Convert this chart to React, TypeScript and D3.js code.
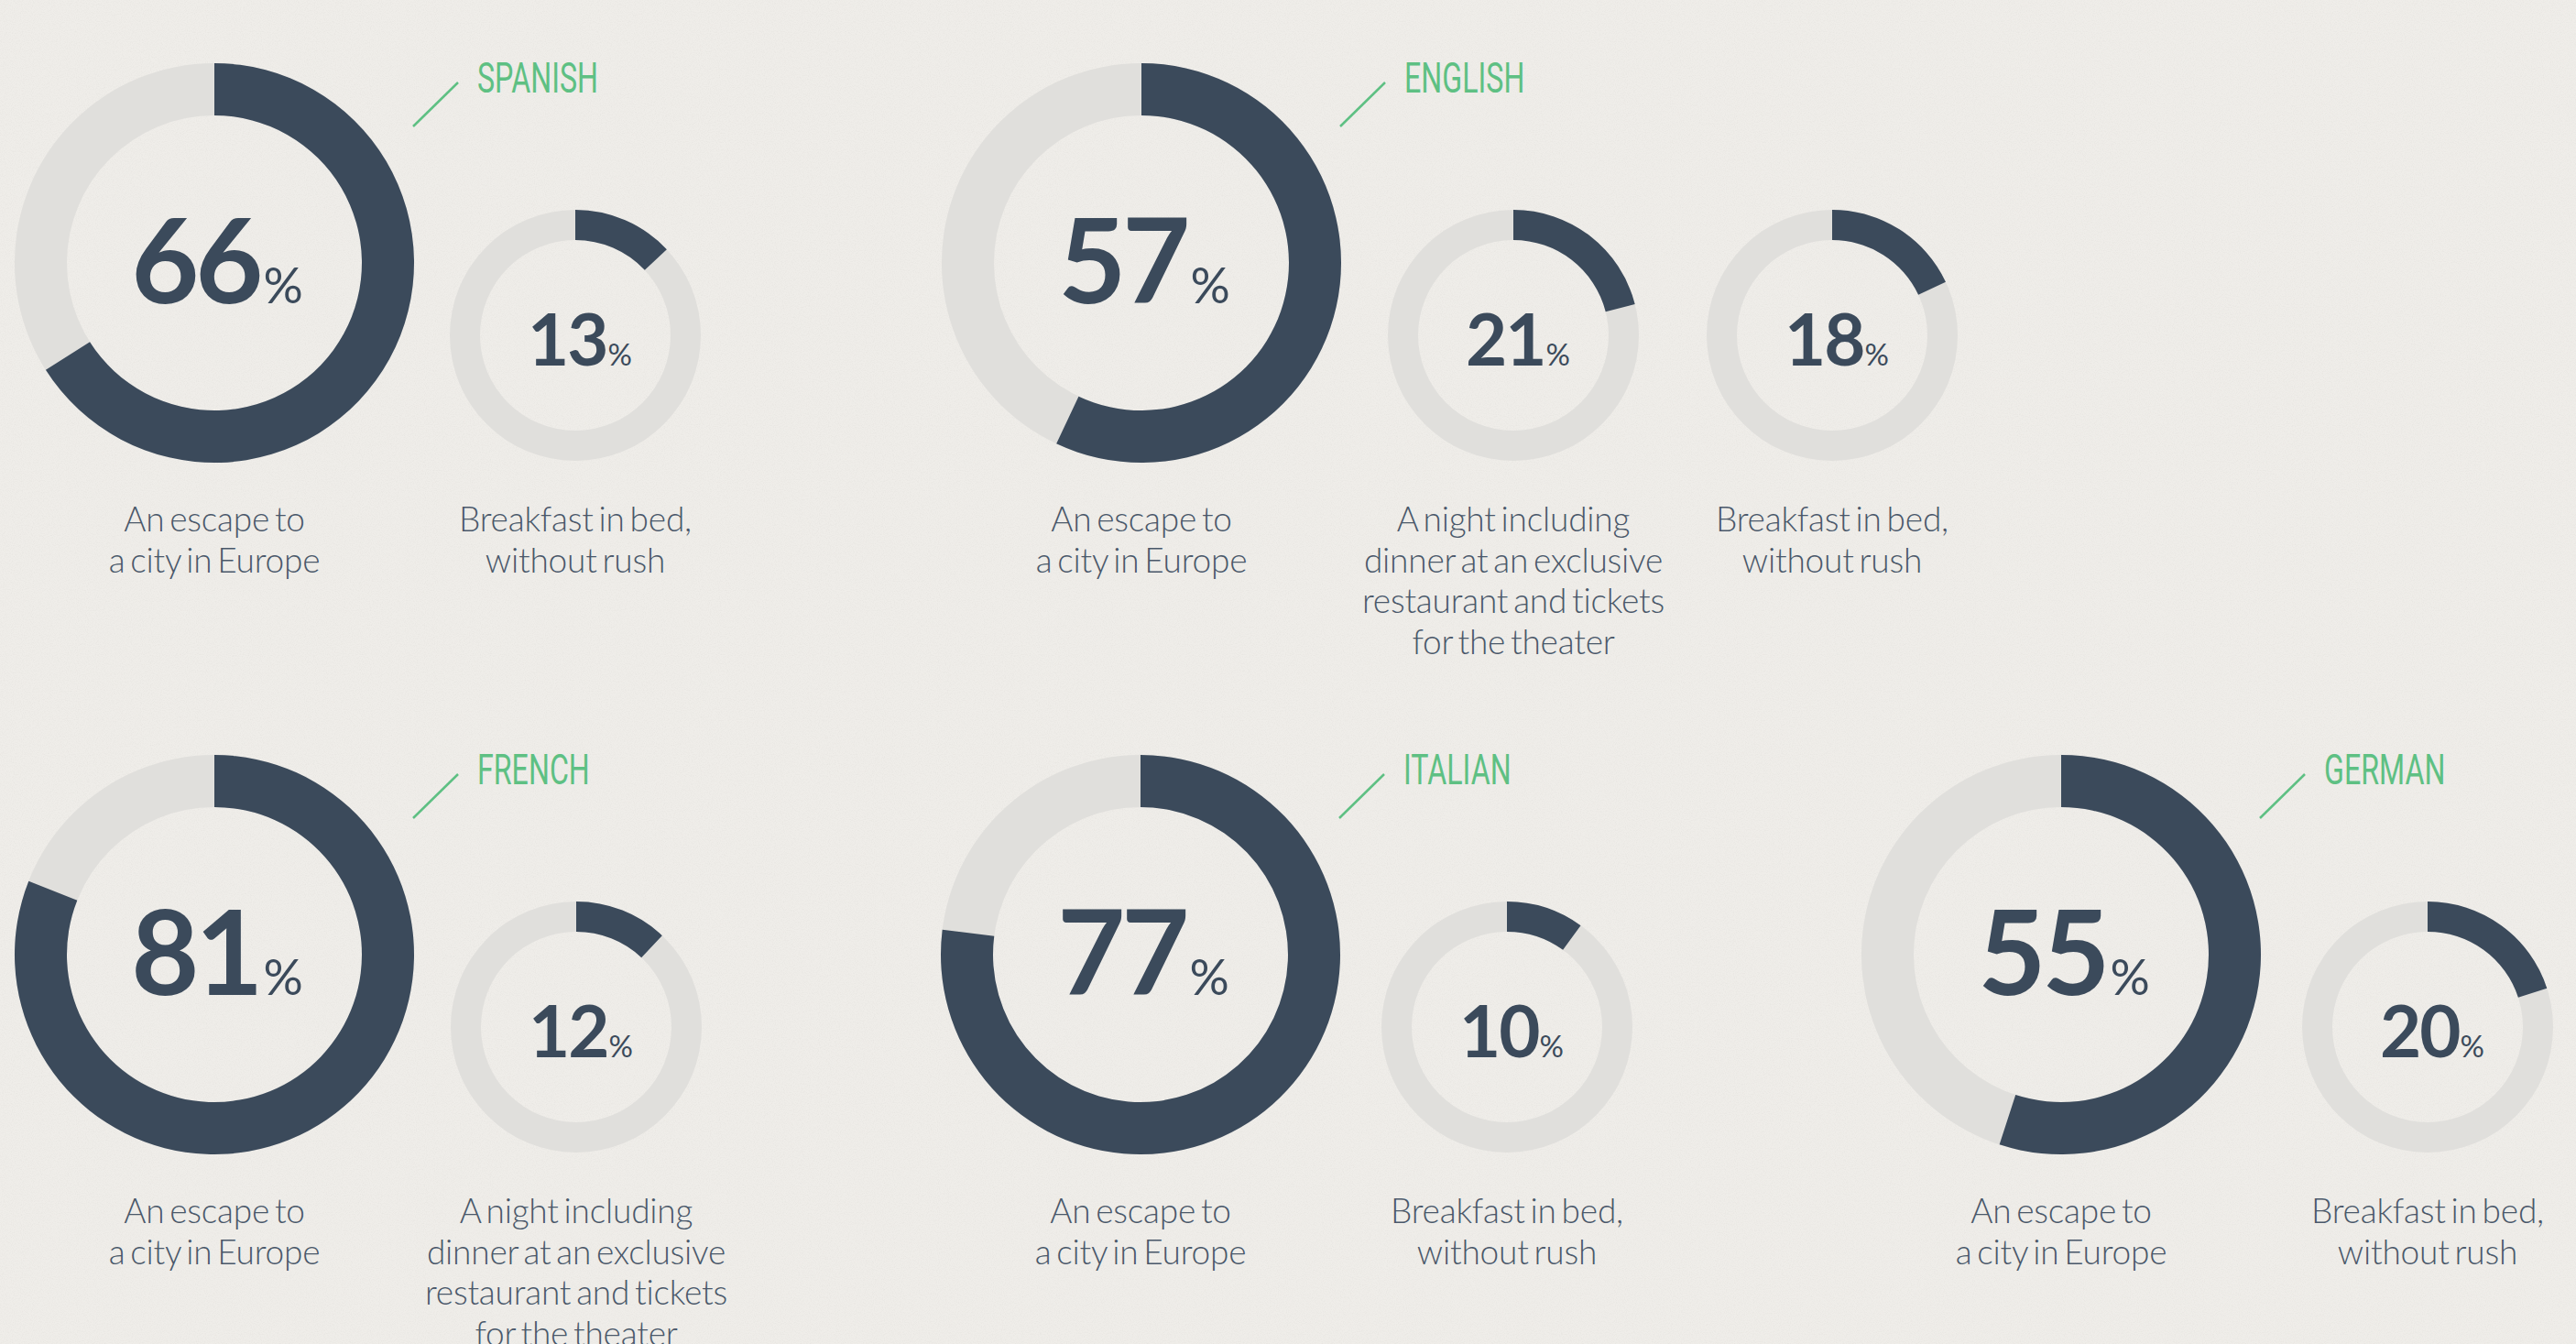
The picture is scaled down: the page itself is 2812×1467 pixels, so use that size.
import React from "react";
import * as d3 from "d3";

// ---- data ----
const languages = ["SPANISH", "ENGLISH", "FRENCH", "ITALIAN", "GERMAN"];
const escapeShare = [66, 57, 81, 77, 55];
const nightShare: (number | null)[] = [null, 21, 12, null, null];
const breakfastShare: (number | null)[] = [13, 18, null, 10, 20];

const escapeLabel = ["An escape to", "a city in Europe"];
const nightLabel = ["A night including", "dinner at an exclusive", "restaurant and tickets", "for the theater"];
const breakfastLabel = ["Breakfast in bed,", "without rush"];

// ---- layout ----
const W = 2812;
const H = 1467;
const groupX = [234, 1246, 234, 1245, 2250];
const groupY = [287, 287, 1042, 1042, 1042];
const smallOffsets = [[394], [406, 754], [395], [400], [400]];

const DARK = "#3b4a5b";
const GREY = "#e0dfdc";
const TEXT = "#4a586a";
const GREEN = "#5ec083";

const bigR = { outer: 218, inner: 161 };
const smallR = { outer: 137, inner: 104 };

const angle = d3.scaleLinear().domain([0, 100]).range([0, 2 * Math.PI]);

function Donut({ x, y, value, big }: { x: number; y: number; value: number; big: boolean }) {
  const r = big ? bigR : smallR;
  const arc = d3.arc<any>().innerRadius(r.inner).outerRadius(r.outer);
  const bg = arc({ startAngle: 0, endAngle: 2 * Math.PI }) as string;
  const fg = arc({ startAngle: 0, endAngle: angle(value) }) as string;
  const numSize = big ? 128 : 78;
  const pctSize = big ? 54 : 33;
  const base = big ? 44 : 33;
  return (
    <g transform={`translate(${x},${y})`}>
      <path d={bg} fill={GREY} />
      <path d={fg} fill={DARK} />
      <text
        x={big ? 3 : 5}
        y={base}
        textAnchor="middle"
        fill={DARK}
        fontFamily="Lato, sans-serif"
      >
        <tspan fontSize={numSize} fontWeight={700} letterSpacing={big ? -4 : -2}>
          {value}
        </tspan>
        <tspan fontSize={pctSize} fontWeight={400} dx={big ? 4 : 1}>
          %
        </tspan>
      </text>
    </g>
  );
}

function Label({ x, y, lines }: { x: number; y: number; lines: string[] }) {
  return (
    <text
      x={x}
      y={y}
      textAnchor="middle"
      fill={TEXT}
      fontFamily="Lato, sans-serif"
      fontWeight={300}
      fontSize={37}
      wordSpacing={-4}
      letterSpacing={-0.2}
    >
      {lines.map((l, i) => (
        <tspan key={i} x={x} dy={i === 0 ? 0 : 44.5}>
          {l}
        </tspan>
      ))}
    </text>
  );
}

export default function App() {
  return (
    <svg
      width={W}
      height={H}
      viewBox={`0 0 ${W} ${H}`}
      style={{ position: "fixed", left: 0, top: 0, display: "block" }}
    >
      <defs>
        <filter id="paper" x="0" y="0" width="100%" height="100%">
          <feTurbulence type="fractalNoise" baseFrequency="0.9" numOctaves="2" seed="3" result="n" />
          <feColorMatrix
            type="matrix"
            values="0 0 0 0 0.55  0 0 0 0 0.53  0 0 0 0 0.5  0 0 0 0.9 -0.38"
          />
        </filter>
      </defs>
      <rect width={W} height={H} fill="#efede9" />
      <rect width={W} height={H} filter="url(#paper)" opacity={0.35} />
      {languages.map((lang, gi) => {
        const gx = groupX[gi];
        const gy = groupY[gi];
        const smalls: { v: number; lines: string[] }[] = [];
        if (nightShare[gi] != null) smalls.push({ v: nightShare[gi] as number, lines: nightLabel });
        if (breakfastShare[gi] != null) smalls.push({ v: breakfastShare[gi] as number, lines: breakfastLabel });
        const labelY = gy + 293;
        return (
          <g key={lang}>
            <line
              x1={gx + 217}
              y1={gy - 149}
              x2={gx + 266}
              y2={gy - 197}
              stroke={GREEN}
              strokeWidth={2.5}
            />
            <g transform={`translate(${gx + 287},${gy - 186}) scale(0.7,1)`}>
              <text x={0} y={0} fill={GREEN} fontFamily="Roboto, sans-serif" fontWeight={400} fontSize={46}>
                {lang}
              </text>
            </g>
            <Donut x={gx} y={gy} value={escapeShare[gi]} big={true} />
            <Label x={gx} y={labelY} lines={escapeLabel} />
            {smalls.map((s, si) => {
              const sx = gx + smallOffsets[gi][si];
              return (
                <g key={si}>
                  <Donut x={sx} y={gy + 79} value={s.v} big={false} />
                  <Label x={sx} y={labelY} lines={s.lines} />
                </g>
              );
            })}
          </g>
        );
      })}
    </svg>
  );
}
